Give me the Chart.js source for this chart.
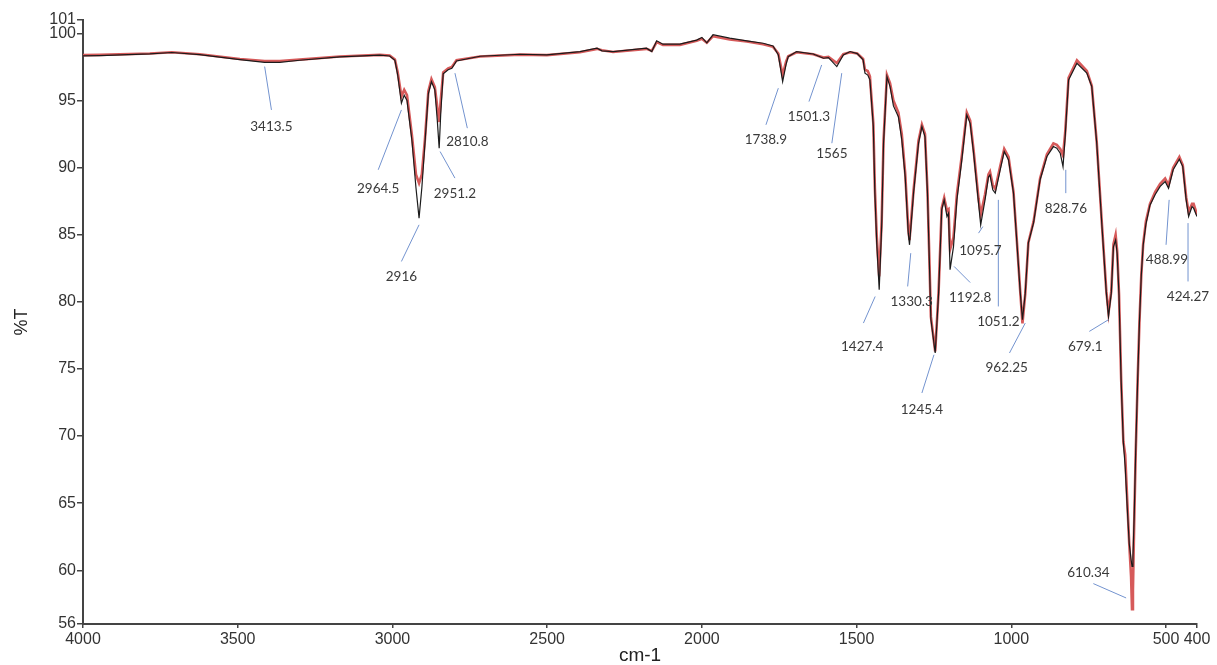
<!DOCTYPE html>
<html>
<head>
<meta charset="utf-8">
<title>FTIR spectrum</title>
<script src="https://cdn.jsdelivr.net/npm/chart.js@4.4.1/dist/chart.umd.min.js"></script>
<style>
  html, body { margin: 0; padding: 0; background: #fff; }
  #wrap { position: relative; width: 1217px; height: 665px; }
</style>
</head>
<body>
<div id="wrap"><canvas id="chart"></canvas></div>
<script>
const wavenumbers = [4000, 3946, 3784, 3713, 3623, 3493, 3413, 3364, 3300, 3170, 3041, 3009, 2992, 2983, 2971, 2962, 2953, 2937, 2924, 2914,
  2905, 2895, 2884, 2874, 2863, 2855, 2849, 2844, 2836, 2820, 2808, 2793, 2717, 2588, 2501, 2394, 2339, 2323, 2287, 2179,
  2162, 2146, 2126, 2071, 2017, 2000, 1984, 1964, 1910, 1855, 1802, 1770, 1753, 1739, 1728, 1721, 1694, 1640, 1607, 1591,
  1564, 1543, 1521, 1498, 1479, 1473, 1464, 1457, 1446, 1441, 1435, 1427, 1419, 1413, 1402, 1392, 1381, 1365, 1354, 1343,
  1333, 1329, 1316, 1300, 1289, 1279, 1271, 1265, 1260, 1246, 1235, 1225, 1217, 1208, 1203, 1198, 1187, 1176, 1160, 1144,
  1133, 1122, 1106, 1099, 1085, 1074, 1069, 1060, 1052, 1036, 1023, 1009, 993, 982, 971, 964, 955, 945, 928, 907,
  885, 864, 853, 842, 833, 826, 815, 788, 756, 740, 724, 707, 693, 686, 677, 670, 663, 658, 652, 645,
  638, 632, 625, 619, 613, 610, 607, 603, 598, 592, 586, 580, 574, 565, 552, 535, 519, 503, 492, 477,
  457, 446, 435, 427, 416, 411, 400];

// %T, black trace
const transBlack = [98.33, 98.35, 98.47, 98.58, 98.42, 98.05, 97.85, 97.85, 98.00, 98.25, 98.38, 98.32, 98.00, 96.90, 94.80, 95.40, 95.00, 92.00, 88.50, 86.24,
  88.50, 91.80, 95.50, 96.40, 95.80, 93.50, 91.45, 94.00, 97.00, 97.30, 97.40, 97.95, 98.30, 98.45, 98.40, 98.65, 98.90, 98.70, 98.65, 98.90,
  98.65, 99.45, 99.20, 99.20, 99.50, 99.70, 99.30, 99.90, 99.65, 99.45, 99.27, 99.07, 98.40, 96.41, 97.70, 98.27, 98.65, 98.47, 98.15, 98.20,
  97.53, 98.40, 98.65, 98.50, 98.03, 97.04, 96.90, 96.54, 93.06, 88.10, 84.40, 80.90, 85.60, 91.80, 96.78, 96.04, 94.60, 93.80, 92.07, 89.30,
  85.10, 84.25, 88.10, 91.80, 93.06, 92.30, 88.10, 83.10, 78.70, 76.19, 80.65, 86.86, 87.60, 86.36, 86.60, 82.40, 84.10, 87.60, 90.58, 93.93,
  93.30, 91.08, 87.36, 85.74, 87.60, 89.30, 89.46, 88.35, 88.10, 89.84, 91.20, 90.58, 88.10, 84.40, 80.65, 78.67, 80.65, 84.40, 85.90, 89.10,
  90.83, 91.57, 91.45, 91.08, 90.08, 92.30, 96.54, 97.78, 97.04, 96.04, 91.82, 85.60, 80.65, 78.90, 80.65, 84.10, 84.60, 83.60, 80.50, 74.00,
  69.50, 67.70, 64.50, 62.00, 60.80, 60.30, 61.00, 64.00, 69.00, 74.00, 78.50, 82.00, 84.20, 85.80, 87.20, 88.00, 88.60, 88.97, 88.47, 89.84,
  90.63, 90.08, 87.60, 86.36, 87.10, 86.98, 86.36];

// %T, red trace
const transRed = [98.38, 98.40, 98.50, 98.60, 98.45, 98.10, 97.95, 97.95, 98.05, 98.28, 98.40, 98.35, 98.05, 97.10, 95.30, 95.80, 95.40, 92.40, 89.50, 88.85,
  89.50, 92.10, 95.70, 96.60, 96.00, 94.50, 93.40, 95.00, 97.10, 97.40, 97.50, 98.00, 98.28, 98.42, 98.38, 98.60, 98.85, 98.75, 98.62, 98.85,
  98.70, 99.35, 99.15, 99.15, 99.45, 99.60, 99.30, 99.80, 99.55, 99.40, 99.20, 99.00, 98.50, 96.90, 97.90, 98.30, 98.60, 98.45, 98.20, 98.25,
  97.80, 98.45, 98.60, 98.50, 98.10, 97.30, 97.20, 96.80, 93.30, 88.50, 84.90, 81.90, 86.00, 92.00, 96.90, 96.30, 95.00, 94.10, 92.50, 89.60,
  85.40, 84.60, 88.30, 92.00, 93.20, 92.50, 88.30, 83.30, 78.90, 76.30, 80.80, 87.00, 87.75, 86.80, 86.90, 83.90, 84.80, 88.00, 90.90, 94.10,
  93.50, 91.30, 87.70, 86.50, 88.00, 89.50, 89.70, 88.70, 88.40, 90.10, 91.40, 90.80, 88.20, 84.50, 80.70, 78.40, 80.60, 84.40, 86.00, 89.20,
  91.00, 91.80, 91.70, 91.40, 90.90, 92.60, 96.70, 98.00, 97.20, 96.10, 91.90, 85.70, 80.80, 79.20, 80.80, 84.30, 85.00, 83.80, 80.60, 74.20,
  69.60, 68.60, 65.00, 62.00, 59.50, 57.10, 58.50, 63.50, 68.80, 74.00, 78.50, 82.00, 84.30, 86.00, 87.30, 88.20, 88.80, 89.20, 88.70, 90.00,
  90.80, 90.20, 87.80, 86.70, 87.30, 87.30, 86.50];

const xTickValues = [4000, 3500, 3000, 2500, 2000, 1500, 1000, 500, 400];
const yTickValues = [56, 60, 65, 70, 75, 80, 85, 90, 95, 100, 101];

// peak labels: text, leader line from (tip) to (end), text centre, all in cm-1 / %T
const peakLabels = ['3413.5', '2964.5', '2916', '2951.2', '2810.8', '1738.9', '1501.3', '1565', '1427.4', '1330.3',
  '1245.4', '1192.8', '1095.7', '1051.2', '962.25', '828.76', '679.1', '610.34', '488.99', '424.27'];
const tipX = [3413, 2971, 2914, 2846, 2798, 1753, 1613, 1548, 1440, 1325, 1250, 1185, 1092, 1042, 955, 824, 686, 629, 490, 429];
const tipY = [97.53, 94.30, 85.74, 91.20, 97.04, 95.92, 97.65, 97.04, 80.40, 83.63, 76.06, 82.64, 85.61, 87.60, 78.42, 89.84, 78.67, 57.94, 87.60, 85.87];
const endX = [3391, 3046, 2971, 2798, 2758, 1793, 1654, 1580, 1478, 1335, 1289, 1133, 1106, 1042, 1006, 824, 748, 735, 500, 429];
const endY = [94.30, 89.84, 83.01, 89.22, 92.94, 93.19, 94.92, 91.82, 78.42, 81.15, 73.21, 81.44, 85.12, 79.66, 76.19, 88.10, 77.80, 59.01, 84.25, 81.52];
const textX = [3391, 3046, 2971, 2798, 2758, 1793, 1654, 1580, 1482, 1322, 1289, 1133, 1100, 1042, 1015, 824, 761, 751, 497, 429];
const textY = [93.06, 88.47, 81.89, 88.10, 91.94, 92.12, 93.80, 91.08, 76.66, 80.03, 71.97, 80.28, 83.83, 78.54, 75.07, 86.98, 76.63, 59.81, 83.13, 80.36];

const AXIS_FONT = "'Liberation Sans', Arial, sans-serif";
const LABEL_FONT = "Lato, 'Open Sans', sans-serif";

const toPoints = (ys) => wavenumbers.map((x, i) => ({ x, y: ys[i] }));

// draws the peak leader lines and their numbers through the chart scales
const peakLabelPlugin = {
  id: 'peakLabels',
  afterDatasetsDraw(chart) {
    const { ctx, scales: { x, y } } = chart;
    ctx.save();
    ctx.strokeStyle = '#7393cf';
    ctx.lineWidth = 1;
    peakLabels.forEach((_, i) => {
      ctx.beginPath();
      ctx.moveTo(x.getPixelForValue(tipX[i]), y.getPixelForValue(tipY[i]));
      ctx.lineTo(x.getPixelForValue(endX[i]), y.getPixelForValue(endY[i]));
      ctx.stroke();
    });
    ctx.fillStyle = '#3a3a3a';
    ctx.font = `13.5px ${LABEL_FONT}`;
    ctx.textAlign = 'center';
    ctx.textBaseline = 'middle';
    peakLabels.forEach((label, i) => {
      ctx.fillText(label, x.getPixelForValue(textX[i]), y.getPixelForValue(textY[i]));
    });
    ctx.restore();
  },
};

new Chart(document.getElementById('chart'), {
  type: 'line',
  data: {
    datasets: [
      {
        label: 'sample A',
        data: toPoints(transBlack),
        borderColor: '#1b1b1b',
        borderWidth: 1.2,
        pointRadius: 0,
        tension: 0,
        order: 0,
      },
      {
        label: 'sample B',
        data: toPoints(transRed),
        borderColor: '#d65a5a',
        borderWidth: 2.6,
        pointRadius: 0,
        tension: 0,
        order: 1,
      },
    ],
  },
  options: {
    responsive: true,
    maintainAspectRatio: false,
    animation: false,
    layout: { padding: { top: 20, right: 20, bottom: 0, left: 0 } },
    plugins: {
      legend: { display: false },
      tooltip: { enabled: false },
    },
    scales: {
      x: {
        type: 'linear',
        reverse: true,
        min: 400,
        max: 4000,
        afterBuildTicks: (scale) => { scale.ticks = xTickValues.map(value => ({ value })); },
        afterFit: (scale) => { scale.height = 41; },
        ticks: {
          autoSkip: false,
          maxRotation: 0,
          minRotation: 0,
          padding: 2,
          color: '#333',
          font: { family: AXIS_FONT, size: 16 },
          callback: (v) => String(v),
        },
        grid: { drawOnChartArea: false, drawTicks: true, tickLength: 4, color: '#444', lineWidth: 1.5 },
        border: { display: true, color: '#444', width: 2 },
        title: {
          display: true,
          text: 'cm-1',
          color: '#222',
          font: { family: AXIS_FONT, size: 19, lineHeight: 1 },
          padding: { top: 0, bottom: 0 },
        },
      },
      y: {
        min: 56,
        max: 101,
        afterBuildTicks: (scale) => { scale.ticks = yTickValues.map(value => ({ value })); },
        afterFit: (scale) => { scale.width = 83; },
        ticks: {
          autoSkip: false,
          padding: 1,
          color: '#333',
          font: { family: AXIS_FONT, size: 16 },
          callback: (v) => String(v),
        },
        grid: { drawOnChartArea: false, drawTicks: true, tickLength: 6, color: '#444', lineWidth: 1.5 },
        border: { display: true, color: '#444', width: 2 },
        title: {
          display: true,
          text: '%T',
          color: '#222',
          font: { family: AXIS_FONT, size: 18 },
          padding: { top: 11, bottom: 0 },
        },
      },
    },
  },
  plugins: [peakLabelPlugin],
});
</script>
</body>
</html>
